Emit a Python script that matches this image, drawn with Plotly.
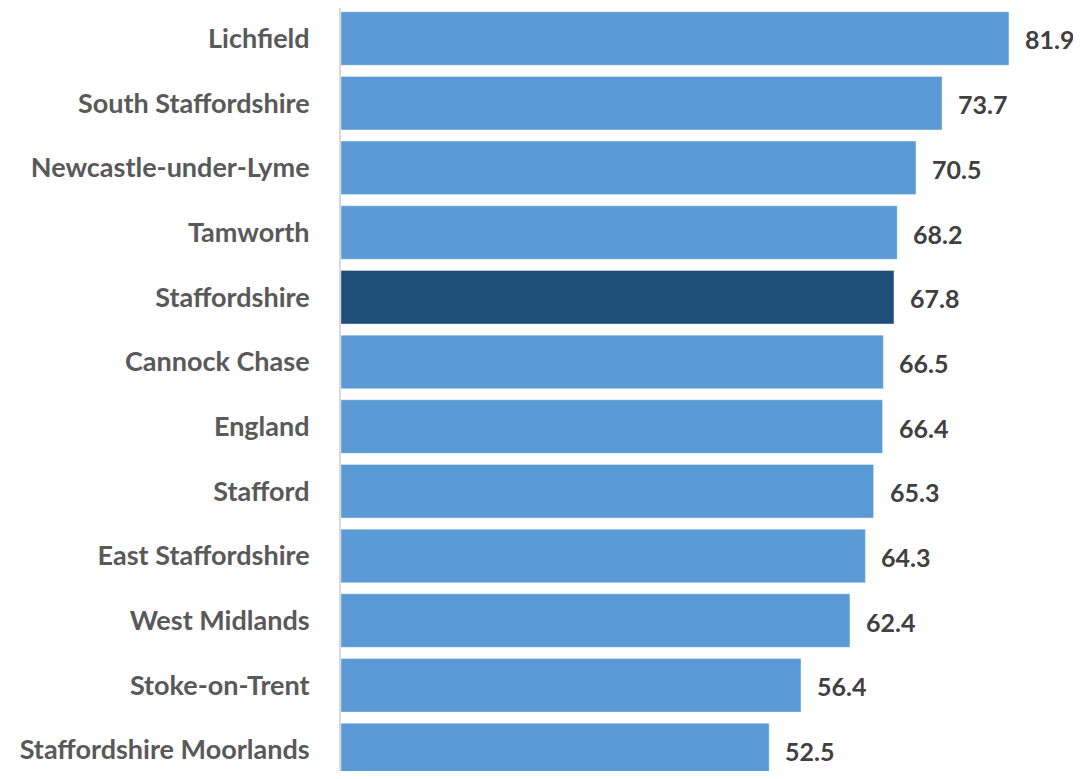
import plotly.graph_objects as go

categories = ["Lichfield", "South Staffordshire", "Newcastle-under-Lyme", "Tamworth",
              "Staffordshire", "Cannock Chase", "England", "Stafford",
              "East Staffordshire", "West Midlands", "Stoke-on-Trent",
              "Staffordshire Moorlands"]
values = [81.9, 73.7, 70.5, 68.2, 67.8, 66.5, 66.4, 65.3, 64.3, 62.4, 56.4, 52.5]
highlight = "Staffordshire"

# plot bottom-to-top
cats = categories[::-1]
vals = values[::-1]
colors = ["#1F4E79" if c == highlight else "#5B9BD5" for c in cats]

FONT = "Lato"

fig = go.Figure(go.Bar(
    y=cats, x=vals, orientation="h",
    marker=dict(color=colors, line=dict(color="rgba(255,255,255,0.35)", width=1)),
    width=0.827,
    hoverinfo="x+y",
))

for c, v in zip(cats, vals):
    fig.add_annotation(x=v, y=c, text=f"{v:.1f}", showarrow=False,
                       xanchor="left", yanchor="middle", xshift=14, yshift=-1,
                       font=dict(family=FONT, size=25, color="#404040", weight="bold"))

fig.update_layout(
    width=1073, height=763,
    margin=dict(l=333, r=6, t=0, b=0),
    paper_bgcolor="white", plot_bgcolor="white",
    showlegend=False,
    xaxis=dict(range=[0, 90], visible=False, showgrid=False, zeroline=False),
    yaxis=dict(range=[-0.325, 11.471], showgrid=False, zeroline=False,
               showline=True, linecolor="#D9D9D9", linewidth=2,
               ticks="", ticklabelstandoff=24,
               tickfont=dict(family=FONT, size=27, color="#595959", weight="bold")),
)

fig.write_html("out.html")
